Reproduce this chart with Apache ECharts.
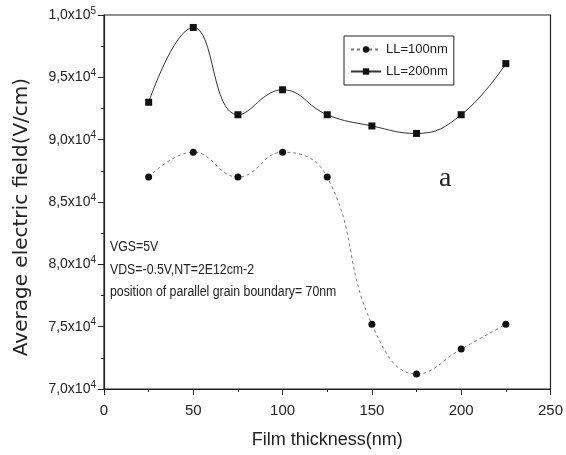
<!DOCTYPE html>
<html><head><meta charset="utf-8">
<script src="https://cdn.jsdelivr.net/npm/echarts@6/dist/echarts.min.js"></script>
<style>html,body{margin:0;padding:0;background:#fff;overflow:hidden}#c{width:566px;height:455px}</style>
</head><body><div id="c"></div>
<script>
const thickness = [25, 50, 75, 100, 125, 150, 175, 200, 225];
const ll100 = [87000, 89000, 87000, 89000, 87000, 75200, 71200, 73200, 75200];
const ll200 = [93000, 99000, 92000, 94000, 92000, 91100, 90500, 92000, 96100];
const seriesNames = ['LL=100nm', 'LL=200nm'];
const notes = ['VGS=5V', 'VDS=-0.5V,NT=2E12cm-2', 'position of parallel grain boundary= 70nm'];
const panelLabel = 'a';
const xTitle = 'Film thickness(nm)';
const yTitle = 'Average electric field(V/cm)';

const font = '"Liberation Sans", Arial, sans-serif';
const fontWide = '"DejaVu Sans", "Liberation Sans", sans-serif';
function fmtY(v) {
  const e = Math.floor(Math.log10(v) + 1e-9);
  const m = v / Math.pow(10, e);
  return m.toFixed(1).replace('.', ',') + 'x10{sup|' + e + '}';
}
const chart = echarts.init(document.getElementById('c'), null, {renderer: 'canvas', width: 566, height: 455});
chart.setOption({
  animation: false,
  backgroundColor: '#fff',
  grid: {left: 104, right: 11, top: 15, bottom: 66, show: true, borderColor: '#222', borderWidth: 1.2, backgroundColor: 'transparent'},
  xAxis: {
    type: 'value', min: 0, max: 250, interval: 50,
    name: xTitle, nameLocation: 'middle', nameGap: 42,
    nameTextStyle: {fontFamily: font, fontSize: 18, color: '#222'},
    axisLine: {lineStyle: {color: '#222', width: 1.2}},
    axisTick: {length: 6, lineStyle: {color: '#222'}},
    minorTick: {show: true, splitNumber: 2, length: 3, lineStyle: {color: '#222'}},
    splitLine: {show: false},
    axisLabel: {fontFamily: font, fontSize: 15, color: '#222', margin: 14}
  },
  yAxis: {
    type: 'value', min: 70000, max: 100000, interval: 5000,
    axisLine: {lineStyle: {color: '#222', width: 1.2}},
    axisTick: {length: 6, lineStyle: {color: '#222'}},
    minorTick: {show: true, splitNumber: 2, length: 3, lineStyle: {color: '#222'}},
    splitLine: {show: false},
    axisLabel: {
      fontFamily: font, fontSize: 14, color: '#222', margin: 8,
      formatter: fmtY,
      rich: {sup: {fontFamily: font, fontSize: 10, color: '#222', verticalAlign: 'top', padding: [0, 0, 8, 0]}}
    }
  },
  legend: {
    left: 344, top: 36, orient: 'vertical', itemGap: 9,
    padding: [7, 6, 7, 6],
    borderColor: '#222', borderWidth: 1,
    itemWidth: 30, itemHeight: 8,
    textStyle: {fontFamily: font, fontSize: 13, color: '#222'},
    data: seriesNames
  },
  series: [
    {
      name: seriesNames[0], type: 'line', smooth: 0.45,
      data: thickness.map((x, i) => [x, ll100[i]]),
      symbol: 'circle', symbolSize: 7,
      itemStyle: {color: '#111'},
      lineStyle: {color: '#777', width: 1, type: [3, 3]}
    },
    {
      name: seriesNames[1], type: 'line', smooth: 0.45,
      data: thickness.map((x, i) => [x, ll200[i]]),
      symbol: 'rect', symbolSize: 7,
      itemStyle: {color: '#111'},
      lineStyle: {color: '#333', width: 1}
    }
  ],
  graphic: [
    {type: 'text', x: 22, y: 217, rotation: Math.PI / 2,
     style: {text: yTitle, font: '20px ' + fontWide, fill: '#222', align: 'center', verticalAlign: 'middle'}},
    {type: 'text', x: 110, y: 240, scaleX: 0.88, style: {text: notes[0], font: '14px ' + font, fill: '#222'}},
    {type: 'text', x: 110, y: 263, scaleX: 0.88, style: {text: notes[1], font: '14px ' + font, fill: '#222'}},
    {type: 'text', x: 110, y: 285, scaleX: 0.88, style: {text: notes[2], font: '14px ' + font, fill: '#222'}},
    {type: 'text', x: 439, y: 165, style: {text: panelLabel, font: '28px "Liberation Serif", "Times New Roman", serif', fill: '#222'}}
  ]
});
</script></body></html>
